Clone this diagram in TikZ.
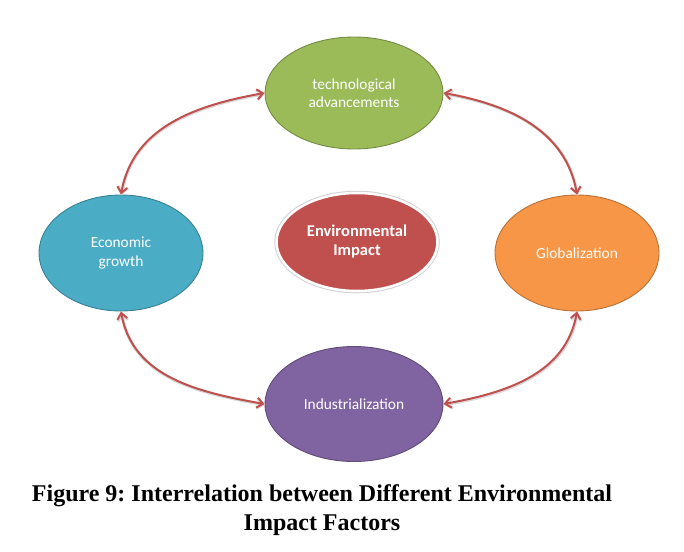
\documentclass[tikz,border=0pt]{standalone}
\usepackage{fontspec}
\setmainfont{Liberation Serif}
\newfontfamily\bubblefont{Carlito}
\usepackage{tikz}
\usetikzlibrary{arrows.meta,shapes.geometric}
\definecolor{leaf}{HTML}{9BBB59}
\definecolor{sky}{HTML}{4BACC6}
\definecolor{tang}{HTML}{F79646}
\definecolor{grape}{HTML}{8064A2}
\definecolor{brick}{HTML}{C0504D}
\frenchspacing
\tikzset{
  bubble/.style={ellipse, inner sep=0pt, line width=0.9pt, align=center, text=white,
                 font=\bubblefont\fontsize{15.4}{18.5}\selectfont},
  techbox/.style={bubble, draw=leaf!75!black, fill=leaf, minimum width=178pt, minimum height=112pt},
  econbox/.style={bubble, draw=sky!75!black, fill=sky, minimum width=164pt, minimum height=116pt},
  globbox/.style={bubble, draw=tang!75!black, fill=tang, minimum width=164pt, minimum height=116pt},
  indbox/.style={bubble, draw=grape!75!black, fill=grape, minimum width=178pt, minimum height=115pt},
  hubbox/.style={bubble, draw=white, line width=2.5pt, fill=brick, minimum width=161pt, minimum height=98pt,
                 preaction={draw=black!18, line width=4.5pt},
                 font=\bubblefont\bfseries\fontsize{16.5}{19}\selectfont},
  link/.style={{Straight Barb[length=6pt,width=10pt]}-{Straight Barb[length=6pt,width=10pt]},
               draw=brick, line width=2pt,
               preaction={draw=black!15, line width=3pt, transform canvas={shift={(0.6pt,-0.8pt)}}}},
  caption/.style={align=center, inner sep=0pt, font=\bfseries\fontsize{24}{29}\selectfont}
}
\begin{document}
\begin{tikzpicture}[x=1pt,y=-1pt]
 \useasboundingbox (0,0) rectangle (684,551);
 \node[techbox] (tech) at (354,93) {technological\\advancements};
 \node[econbox] (econ) at (121,253) {Economic\\growth};
 \node[globbox] (glob) at (577,253) {Globalization};
 \node[indbox] (ind) at (354,404) {Industrialization};
 \node[hubbox] (env) at (357,242) {Environmental\\Impact};

 \draw[link] (econ.north) to[out=80,in=190] (tech.west);
 \draw[link] (tech.east) to[out=-10,in=100] (glob.north);
 \draw[link] (econ.south) to[out=-80,in=170] (ind.west);
 \draw[link] (glob.south) to[out=-100,in=10] (ind.east);

 \node[caption] (cap) at (322,510) {Figure 9: Interrelation between Different Environmental\\Impact Factors};
\end{tikzpicture}
\end{document}
